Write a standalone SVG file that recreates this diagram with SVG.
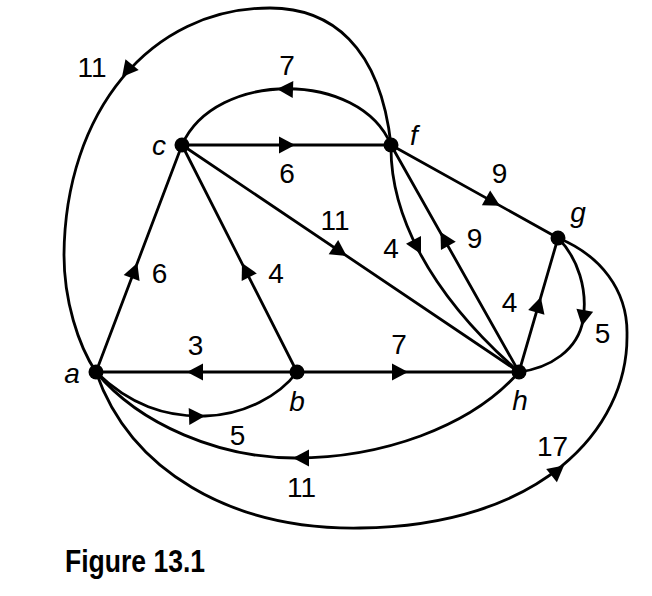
<svg xmlns="http://www.w3.org/2000/svg" xmlns:xlink="http://www.w3.org/1999/xlink" width="652" height="596" viewBox="0 0 652 596">
<style>
.e{fill:none;stroke:#000;stroke-width:2.8;stroke-linecap:round}
.ah{fill:#000}
.w{font-family:"Liberation Sans",Arial,sans-serif;font-size:28px;fill:#000;text-anchor:middle}
.n{font-family:"Liberation Sans",Arial,sans-serif;font-size:28px;font-style:italic;fill:#000;text-anchor:middle}
.dot{fill:#000}
.cap{font-family:"Liberation Sans",Arial,sans-serif;font-size:32px;font-weight:bold;fill:#000}
</style>
<defs>
<path id="ah" class="ah" d="M0,0 L-16,-8.5 L-16,8.5 Z"/>
</defs>
<rect width="652" height="596" fill="#fff"/>
<g id="connectors">
<path class="e" d="M391,145 C380,45 330,8 270,8 C150,8 65,112 64,255 C64,300 78,345 96,372"/>
<path class="e" d="M391,145 C360,70 215,70 182,145"/>
<path class="e" d="M182,145 L391,145"/>
<path class="e" d="M391,145 L558,238"/>
<path class="e" d="M182,145 L519,372"/>
<path class="e" d="M391,145 C390,210 425,290 519,372"/>
<path class="e" d="M519,372 L391,145"/>
<path class="e" d="M519,372 L558,238"/>
<path class="e" d="M558,238 C578,258 588,290 583,320 C578,350 550,368 519,372"/>
<path class="e" d="M96,372 C130,470 230,530 360,528 C540,526 628,430 627,335 C628,290 600,255 558,238"/>
<path class="e" d="M96,372 L182,145"/>
<path class="e" d="M297,372 L182,145"/>
<path class="e" d="M297,372 L96,372"/>
<path class="e" d="M297,372 L519,372"/>
<path class="e" d="M96,372 C130,405 165,417 205,416 C245,415 280,395 297,372"/>
<path class="e" d="M519,372 C470,428 380,458 295,458 C220,458 140,425 96,372"/>
<use xlink:href="#ah" transform="translate(122,77) rotate(129)"/>
<use xlink:href="#ah" transform="translate(277,89) rotate(182)"/>
<use xlink:href="#ah" transform="translate(295,145) rotate(0)"/>
<use xlink:href="#ah" transform="translate(500,205.7) rotate(29.1)"/>
<use xlink:href="#ah" transform="translate(346.7,256) rotate(33.9)"/>
<use xlink:href="#ah" transform="translate(421,254) rotate(62)"/>
<use xlink:href="#ah" transform="translate(440.5,232) rotate(-119.4)"/>
<use xlink:href="#ah" transform="translate(540.8,297) rotate(-73.8)"/>
<use xlink:href="#ah" transform="translate(582,326) rotate(100)"/>
<use xlink:href="#ah" transform="translate(564,465.5) rotate(-39)"/>
<use xlink:href="#ah" transform="translate(137.3,263) rotate(-69.25)"/>
<use xlink:href="#ah" transform="translate(242,263) rotate(-116.9)"/>
<use xlink:href="#ah" transform="translate(187,372) rotate(180)"/>
<use xlink:href="#ah" transform="translate(408,372) rotate(0)"/>
<use xlink:href="#ah" transform="translate(205,416) rotate(-2)"/>
<use xlink:href="#ah" transform="translate(293,458) rotate(180)"/>
</g>
<g id="edge-labels">
<text class="w" x="92" y="77">11</text>
<text class="w" x="287" y="75">7</text>
<text class="w" x="287" y="183">6</text>
<text class="w" x="499.5" y="183">9</text>
<text class="w" x="335" y="230">11</text>
<text class="w" x="391" y="258">4</text>
<text class="w" x="474.5" y="248">9</text>
<text class="w" x="509.5" y="312">4</text>
<text class="w" x="602.5" y="343">5</text>
<text class="w" x="552.5" y="456">17</text>
<text class="w" x="159.5" y="283">6</text>
<text class="w" x="276" y="283">4</text>
<text class="w" x="195.5" y="355">3</text>
<text class="w" x="399" y="354">7</text>
<text class="w" x="237.5" y="445">5</text>
<text class="w" x="301.5" y="497">11</text>
</g>
<g id="node-a"><circle class="dot" cx="96" cy="372" r="7.5"/><text class="n" x="72" y="383">a</text></g>
<g id="node-b"><circle class="dot" cx="297" cy="372" r="7.5"/><text class="n" x="297" y="411">b</text></g>
<g id="node-c"><circle class="dot" cx="182" cy="145" r="7.5"/><text class="n" x="159" y="155">c</text></g>
<g id="node-f"><circle class="dot" cx="391" cy="145" r="7.5"/><text class="n" x="414" y="145">f</text></g>
<g id="node-g"><circle class="dot" cx="558" cy="238" r="7.5"/><text class="n" x="578" y="222">g</text></g>
<g id="node-h"><circle class="dot" cx="519" cy="372" r="7.5"/><text class="n" x="520" y="410">h</text></g>
<text class="cap" x="65" y="572" textLength="140" lengthAdjust="spacingAndGlyphs">Figure 13.1</text>
</svg>
